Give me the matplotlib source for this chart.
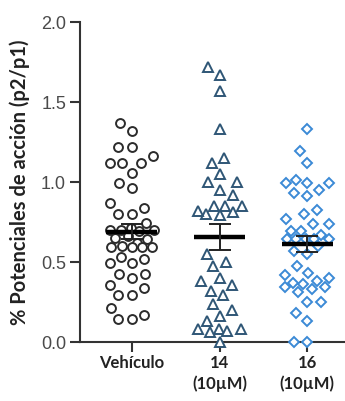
import matplotlib
matplotlib.use('Agg')
import matplotlib.pyplot as plt
import numpy as np

categories = ['Vehículo', '14\n(10µM)', '16\n(10µM)']

vehiculo = [1.365, 1.32, 1.215, 1.215, 1.16, 1.115, 1.115, 1.115, 1.055, 0.99,
            0.96, 0.865, 0.835, 0.80, 0.80, 0.745, 0.71, 0.70, 0.70, 0.70,
            0.69, 0.66, 0.65, 0.64, 0.62, 0.60, 0.59, 0.59, 0.59, 0.59,
            0.53, 0.52, 0.49, 0.49, 0.425, 0.425, 0.40, 0.355, 0.335, 0.295,
            0.295, 0.21, 0.17, 0.14, 0.14]

comp14 = [1.715, 1.667, 1.57, 1.33, 1.146, 1.117, 1.048, 0.996, 0.996, 0.95,
          0.917, 0.85, 0.85, 0.81, 0.79, 0.80, 0.82, 0.85, 0.548, 0.475,
          0.496, 0.38, 0.32, 0.355, 0.40, 0.29, 0.236, 0.20, 0.163, 0.13,
          0.077, 0.077, 0.06, 0.07, 0.077, 0.0]

comp16 = [1.33, 1.19, 1.117, 1.01, 0.995, 0.995, 0.995, 0.95, 0.91, 0.93,
          0.825, 0.80, 0.767, 0.736, 0.736, 0.69, 0.69, 0.67, 0.64, 0.64,
          0.64, 0.64, 0.64, 0.60, 0.57, 0.55, 0.475, 0.43, 0.42, 0.38,
          0.40, 0.36, 0.37, 0.34, 0.33, 0.34, 0.31, 0.25, 0.25, 0.18,
          0.13, 0.0, 0.0]

yticks = [0.0, 0.5, 1.0, 1.5, 2.0]
ylabel = '% Potenciales de acción (p2/p1)'

groups = [vehiculo, comp14, comp16]
markers = ['o', '^', 'D']
colors = ['#2b2b2b', '#2f5676', '#3b8ad6']
msizes = [6.4, 6.6, 5.2]

W, H = 345, 402
fig = plt.figure(figsize=(W / 100, H / 100), dpi=100)
ax = fig.add_axes([80 / W, (H - 342.7) / H, 265 / W, 320 / H])
ax.set_xlim(-0.59, 2.43)
ax.set_ylim(0, 2.0)


def swarm_offsets(values, center, diam, limit):
    vals = np.asarray(values, dtype=float)
    ypx = np.array([ax.transData.transform((center, v))[1] for v in vals])
    order = np.argsort(vals)
    placed = []
    off = np.zeros(len(vals))
    grid = np.arange(-limit, limit + 0.01, 1.0)
    for i in order:
        y = ypx[i]
        cands = [0.0]
        for (px, py) in placed:
            dy = abs(y - py)
            if dy < diam:
                dx = np.sqrt(diam ** 2 - dy ** 2)
                cands += [px + dx, px - dx]
        cands = [c for c in cands if abs(c) <= limit + 1e-6]
        cands = sorted(cands, key=lambda c: (abs(c), c))
        chosen = None
        for c in cands:
            ok = True
            for (px, py) in placed:
                if (c - px) ** 2 + (y - py) ** 2 < diam ** 2 - 1e-6:
                    ok = False
                    break
            if ok:
                chosen = c
                break
        if chosen is None:
            best, bestd = 0.0, -1
            for c in grid:
                d = min((c - px) ** 2 + (y - py) ** 2 for (px, py) in placed)
                if d > bestd:
                    best, bestd = c, d
            chosen = best
        placed.append((chosen, y))
        off[i] = chosen
    x0 = ax.transData.transform((center, 0))[0]
    xs = [ax.transData.inverted().transform((x0 + o, 0))[0] for o in off]
    return np.array(xs)


for k, (vals, m, c, ms) in enumerate(zip(groups, markers, colors, msizes)):
    xs = swarm_offsets(vals, k, 13.5, 22)
    ax.plot(xs, vals, linestyle='none', marker=m, markersize=ms,
            markerfacecolor='white', markeredgecolor=c, markeredgewidth=1.4,
            zorder=3, clip_on=False)
    arr = np.asarray(vals)
    mean = arr.mean()
    sem = arr.std(ddof=1) / np.sqrt(len(arr))
    ax.plot([k - 0.29, k + 0.29], [mean, mean], color='black', lw=3.2,
            solid_capstyle='butt', zorder=5)
    ax.errorbar([k], [mean], yerr=[sem], fmt='none', ecolor='#222222',
                elinewidth=1.4, capsize=8, capthick=1.4, zorder=5)

for s in ['top', 'right']:
    ax.spines[s].set_visible(False)
for s in ['left', 'bottom']:
    ax.spines[s].set_color('#333333')
    ax.spines[s].set_linewidth(1.5)

ax.set_yticks(yticks)
ax.set_yticklabels([f'{t:.1f}' for t in yticks], fontsize=13,
                   family='Liberation Sans', color='#4a4a4a')
ax.tick_params(axis='y', length=7, width=1.5, color='#333333', pad=3)
ax.set_xticks(range(len(categories)))
ax.set_xticklabels(categories, fontsize=12, family='Lato',
                   fontweight='bold', color='#222222', linespacing=1.3)
ax.tick_params(axis='x', length=7, width=1.5, color='#333333', pad=2)
ax.set_ylabel(ylabel, fontsize=14.5, family='Lato', fontweight='bold',
              color='#222222')
ax.yaxis.set_label_coords(-50 / 265, 0.5)

fig.savefig('out.png', dpi=100)
